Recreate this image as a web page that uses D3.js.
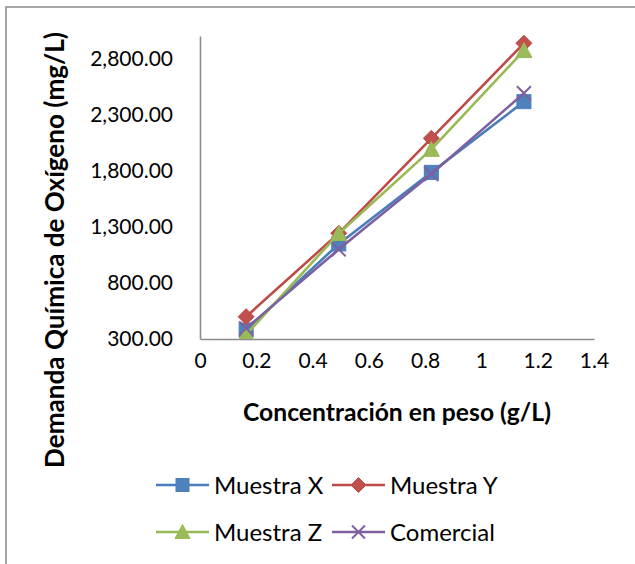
<!DOCTYPE html>
<html>
<head>
<meta charset="utf-8">
<script src="https://cdn.jsdelivr.net/npm/d3@7"></script>
<style>
  html, body { margin: 0; padding: 0; background: #fff; }
  svg { display: block; font-family: Lato, "Open Sans", sans-serif; }
</style>
</head>
<body>
<svg id="chart" width="635" height="564"></svg>
<script>
// Concentration (g/L) at which each sample was measured
const concentration = [0.164, 0.493, 0.822, 1.151];

// Chemical oxygen demand (mg/L) per sample
const muestraX = [380, 1147, 1785, 2415];
const muestraY = [499, 1242, 2088, 2935];
const muestraZ = [340, 1240, 1990, 2870];
const comercial = [395, 1099, 1770, 2490];

const seriesNames = ["Muestra X", "Muestra Y", "Muestra Z", "Comercial"];

const xTickValues = [0, 0.2, 0.4, 0.6, 0.8, 1, 1.2, 1.4];
const xTickLabels = ["0", "0.2", "0.4", "0.6", "0.8", "1", "1.2", "1.4"];
const yTickValues = [300, 800, 1300, 1800, 2300, 2800];
const yTickLabels = ["300.00", "800.00", "1,300.00", "1,800.00", "2,300.00", "2,800.00"];

const xTitle = "Concentración en peso (g/L)";
const yTitle = "Demanda Química de Oxígeno (mg/L)";

const series = [
  { name: seriesNames[0], values: muestraX, line: "#4a7ebb", fill: "#4f81bd", marker: "square" },
  { name: seriesNames[1], values: muestraY, line: "#be4b48", fill: "#c0504d", marker: "diamond" },
  { name: seriesNames[2], values: muestraZ, line: "#98b954", fill: "#9bbb59", marker: "triangle" },
  { name: seriesNames[3], values: comercial, line: "#7d60a0", fill: "#8064a2", marker: "cross" }
];

const svg = d3.select("#chart");

// outer chart frame
svg.append("rect")
  .attr("x", 6).attr("y", 7)
  .attr("width", 700).attr("height", 700)
  .attr("fill", "none").attr("stroke", "#8a8a8a").attr("stroke-width", 1.5);

const plot = { left: 200, right: 594, top: 36, bottom: 339 };

const x = d3.scaleLinear().domain([0, 1.4]).range([plot.left, plot.right]);
const y = d3.scaleLinear().domain([300, 3000]).range([plot.bottom, plot.top]);

svg.append("defs").append("clipPath").attr("id", "plotClip")
  .append("rect")
  .attr("x", plot.left).attr("y", 0)
  .attr("width", plot.right - plot.left + 20)
  .attr("height", plot.bottom);

// axes
const xAxis = d3.axisBottom(x)
  .tickValues(xTickValues)
  .tickSize(0)
  .tickPadding(14)
  .tickFormat((d, i) => xTickLabels[i]);

const yAxis = d3.axisLeft(y)
  .tickValues(yTickValues)
  .tickSize(0)
  .tickPadding(27)
  .tickFormat((d, i) => yTickLabels[i]);

const gx = svg.append("g").attr("transform", `translate(0,${plot.bottom})`).call(xAxis);
const gy = svg.append("g").attr("transform", `translate(${plot.left},0)`).call(yAxis);

[gx, gy].forEach(g => {
  g.select(".domain").attr("stroke", "#8c8c8c").attr("stroke-width", 1.6);
  g.selectAll("text")
    .attr("fill", "#000")
    .style("font-size", "21px")
    .style("font-family", "Lato, 'Open Sans', sans-serif");
});

// axis titles, sized to a fixed run length
function fitWidth(sel, target) {
  const w = sel.node().getComputedTextLength();
  const fs = parseFloat(sel.style("font-size"));
  sel.style("font-size", (fs * target / w) + "px");
}

const xt = svg.append("text")
  .attr("x", 397).attr("y", 421)
  .attr("text-anchor", "middle")
  .style("font-size", "26px").style("font-weight", "bold")
  .text(xTitle);
fitWidth(xt, 308);

const yt = svg.append("text")
  .attr("transform", "translate(64,250) rotate(-90)")
  .attr("text-anchor", "middle")
  .style("font-size", "26px").style("font-weight", "bold")
  .text(yTitle);
fitWidth(yt, 436);

// marker shapes
function drawMarker(g, type, cx, cy, fill, stroke, size) {
  const h = size / 2;
  if (type === "square") {
    g.append("rect")
      .attr("x", cx - h).attr("y", cy - h)
      .attr("width", size).attr("height", size)
      .attr("fill", fill).attr("stroke", stroke).attr("stroke-width", 1);
  } else if (type === "diamond") {
    g.append("path")
      .attr("d", `M${cx},${cy - h - 1}L${cx + h + 1},${cy}L${cx},${cy + h + 1}L${cx - h - 1},${cy}Z`)
      .attr("fill", fill).attr("stroke", stroke).attr("stroke-width", 1);
  } else if (type === "triangle") {
    g.append("path")
      .attr("d", `M${cx},${cy - h - 1}L${cx + h + 1},${cy + h}L${cx - h - 1},${cy + h}Z`)
      .attr("fill", fill).attr("stroke", stroke).attr("stroke-width", 1);
  } else {
    g.append("path")
      .attr("d", `M${cx - h},${cy - h}L${cx + h},${cy + h}M${cx - h},${cy + h}L${cx + h},${cy - h}`)
      .attr("fill", "none").attr("stroke", stroke).attr("stroke-width", 2);
  }
}

const plotLayer = svg.append("g").attr("clip-path", "url(#plotClip)");

const line = d3.line()
  .x((d, i) => x(concentration[i]))
  .y(d => y(d));

series.forEach(s => {
  const g = plotLayer.append("g");
  g.append("path")
    .attr("d", line(s.values))
    .attr("fill", "none")
    .attr("stroke", s.line)
    .attr("stroke-width", 2.6)
    .attr("stroke-linejoin", "round");
  s.values.forEach((v, i) => {
    drawMarker(g, s.marker, x(concentration[i]), y(v), s.fill, s.line, 14);
  });
});

// legend
const legendPos = [
  { lx: 156, ty: 485 }, { lx: 332, ty: 485 },
  { lx: 156, ty: 532 }, { lx: 332, ty: 532 }
];

series.forEach((s, i) => {
  const p = legendPos[i];
  const g = svg.append("g");
  g.append("line")
    .attr("x1", p.lx).attr("x2", p.lx + 53)
    .attr("y1", p.ty).attr("y2", p.ty)
    .attr("stroke", s.line).attr("stroke-width", 2.6);
  drawMarker(g, s.marker, p.lx + 26.5, p.ty, s.fill, s.line, 13);
  g.append("text")
    .attr("x", p.lx + 58).attr("y", p.ty + 9)
    .style("font-size", "24px")
    .attr("fill", "#000")
    .text(s.name);
});
</script>
</body>
</html>
